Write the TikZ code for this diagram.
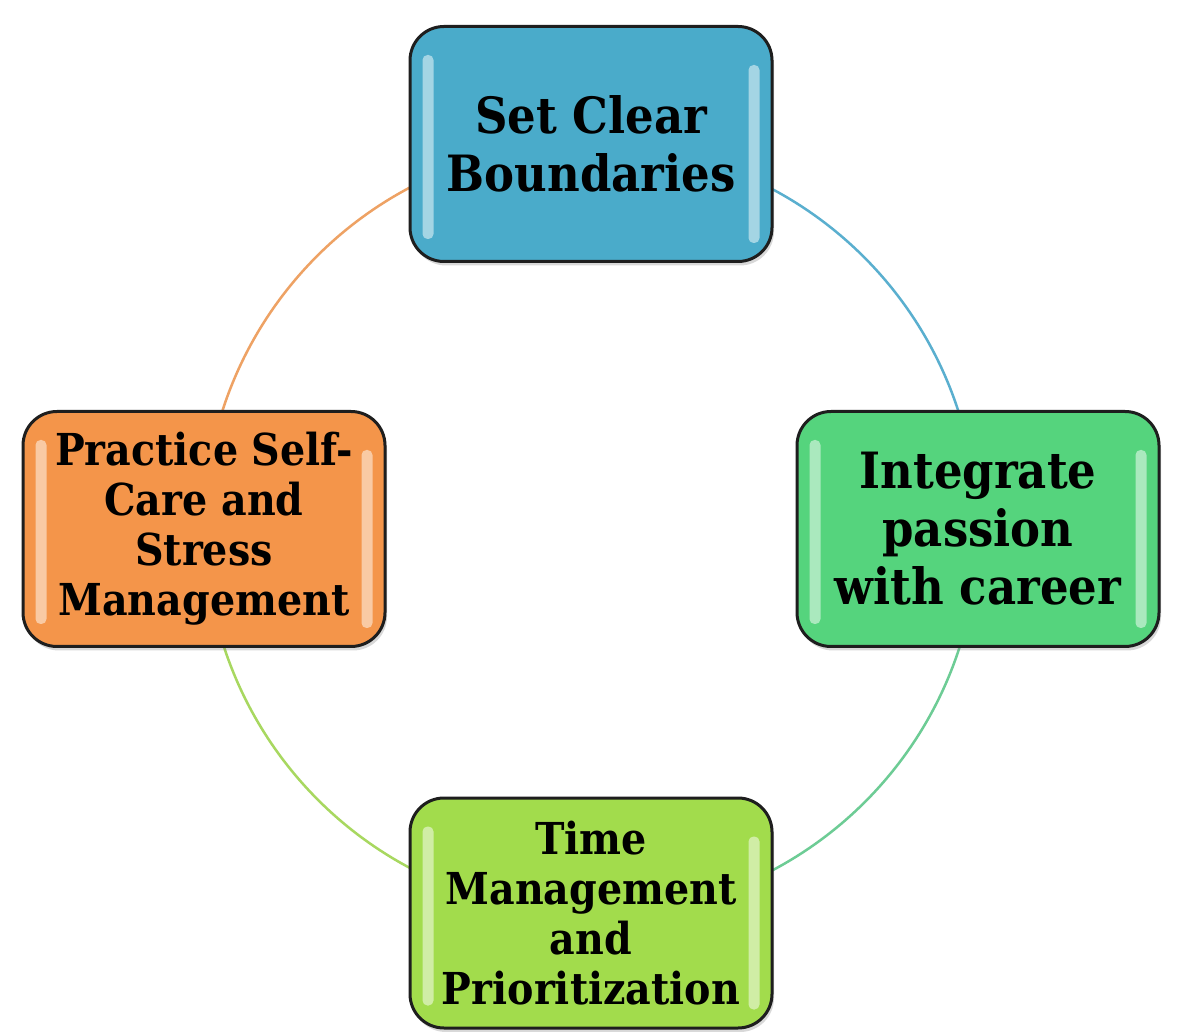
\documentclass[tikz,border=0pt]{standalone}
\usepackage{fontspec}
\setmainfont{DejaVu Serif}[FakeStretch=0.9]
\usetikzlibrary{shadows,backgrounds,calc}
\definecolor{cBlue}{HTML}{4AABCA}
\definecolor{cGreen}{HTML}{55D47D}
\definecolor{cLime}{HTML}{A2DC4C}
\definecolor{cOrange}{HTML}{F4954A}
\definecolor{aBlue}{HTML}{5AAFCF}
\definecolor{aTeal}{HTML}{6DCC95}
\definecolor{aLime}{HTML}{A8D860}
\definecolor{aOrange}{HTML}{EEA264}
\definecolor{edge}{HTML}{1E1E1E}
\begin{document}
\begin{tikzpicture}[x=1pt,y=1pt,
  box/.style={draw=edge, line width=3pt, rounded corners=34pt,
    minimum width=362pt, minimum height=235pt, align=center, inner sep=0pt,
    text=black, font=\bfseries\fontsize{50}{58}\selectfont,
    drop shadow={opacity=0.3, shadow xshift=2pt, shadow yshift=-4pt}},
  fourline/.style={font=\bfseries\fontsize{44}{50}\selectfont},
  arcline/.style={line width=2.5pt},
  gloss/.style={fill=white, opacity=0.5, rounded corners=5pt}]
\useasboundingbox (0,0) rectangle (1177,1031);
\node[box, fill=cBlue] (top) at (591,887) {Set Clear\\Boundaries};
\node[box, fill=cGreen] (right) at (978,502) {Integrate\\passion\\with career};
\node[box, fill=cLime, fourline, minimum height=230pt] (bottom) at (591,118) {Time\\Management\\and\\Prioritization};
\node[box, fill=cOrange, fourline] (left) at (204,502) {Practice Self-\\Care and\\Stress\\Management};
\foreach \n in {top,right,bottom,left}{
  \fill[gloss] ($(\n.north west)+(14,-30)$) rectangle ($(\n.south west)+(25,24)$);
  \fill[gloss] ($(\n.north east)+(-25,-40)$) rectangle ($(\n.south east)+(-14,20)$);
}
\begin{scope}[on background layer]
\fill[white] (0,0) rectangle (1177,1031);
\draw[arcline, draw=aBlue] (top.center) arc[start angle=90, end angle=0, radius=386];
\draw[arcline, draw=aTeal] (right.center) arc[start angle=0, end angle=-90, radius=386];
\draw[arcline, draw=aLime] (bottom.center) arc[start angle=270, end angle=180, radius=386];
\draw[arcline, draw=aOrange] (left.center) arc[start angle=180, end angle=90, radius=386];
\end{scope}
\end{tikzpicture}
\end{document}
